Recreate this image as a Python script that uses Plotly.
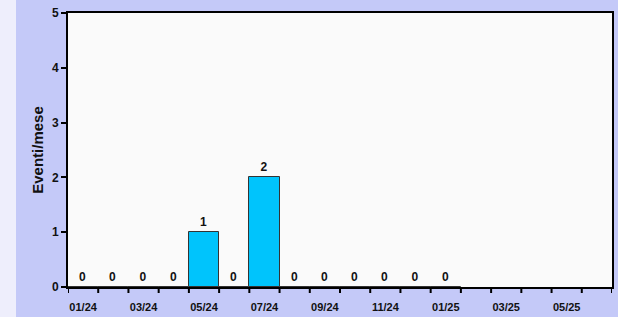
import plotly.graph_objects as go

months = ["01/24","02/24","03/24","04/24","05/24","06/24","07/24","08/24","09/24",
          "10/24","11/24","12/24","01/25","02/25","03/25","04/25","05/25","06/25"]
events = [0,0,0,0,1,0,2,0,0,0,0,0,0,None,None,None,None,None]
tick_labels = [m if i % 2 == 0 else "" for i, m in enumerate(months)]

W, H = 618, 317
L, R, T, B = 68, 6, 13, 30
pw = W - L - R
ph = H - T - B

font = dict(family="Liberation Sans, Arial, sans-serif", size=11, color="#111")

fig = go.Figure()
fig.add_trace(go.Bar(
    x=list(range(len(months))), y=events,
    marker=dict(color="#00c4fc", line=dict(color="#333", width=1)),
    text=[("<b>%d</b>" % v) if v is not None else "" for v in events],
    textposition="outside", textfont=dict(size=12, color="#111"),
    cliponaxis=False, width=1.0, hoverinfo="skip",
))

fig.update_layout(
    width=W, height=H,
    margin=dict(l=L, r=R, t=T, b=B, autoexpand=False),
    paper_bgcolor="#c4c9f8", plot_bgcolor="#fafafa",
    font=font, showlegend=False, bargap=0,
    xaxis=dict(
        range=[-0.5, len(months) - 0.5], automargin=False,
        tickmode="array", tickvals=list(range(len(months))),
        ticktext=["<b>%s</b>" % t if t else "" for t in tick_labels],
        ticks="", showgrid=False, zeroline=False, ticklabelstandoff=9,
        showline=True, linecolor="#000", linewidth=2, mirror=True,
        tickfont=dict(size=11),
    ),
    yaxis=dict(
        range=[0, 5], tickvals=[0,1,2,3,4,5], automargin=False,
        ticktext=["<b>%d</b>" % v for v in range(6)],
        ticks="outside", ticklen=5, tickwidth=2, tickcolor="#000",
        showgrid=False, zeroline=False,
        showline=True, linecolor="#000", linewidth=2, mirror=True,
        title=dict(text="<b>Eventi/mese</b>", standoff=5, font=dict(size=15)),
        tickfont=dict(size=12),
    ),
)

shapes = []
for i in range(len(months) + 1):
    xb = i - 0.5
    shapes.append(dict(type="line", xref="x", yref="paper", x0=xb, x1=xb,
                       y0=0, y1=-6 / ph, line=dict(color="#000", width=2)))
shapes.append(dict(type="rect", xref="paper", yref="paper",
                   x0=-L / pw, x1=(16 - L) / pw, y0=-B / ph, y1=1 + T / ph,
                   fillcolor="#eeeefc", line=dict(width=0), layer="below"))
fig.update_layout(shapes=shapes)

fig.write_html("out.html", config={"displayModeBar": False},
               post_script="document.body.style.margin='0';document.body.style.overflow='hidden';")
